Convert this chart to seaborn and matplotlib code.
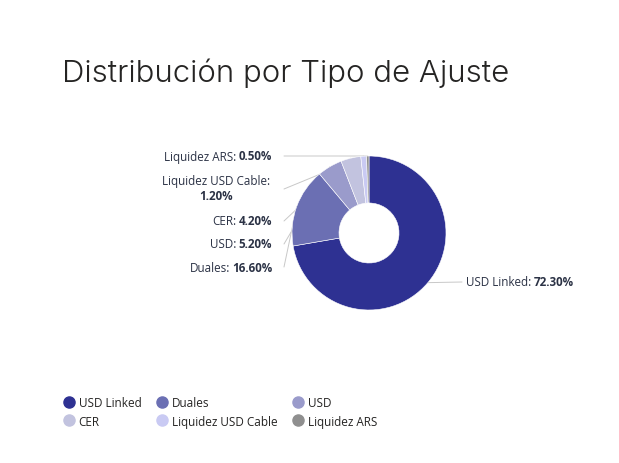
import matplotlib
matplotlib.use("Agg")
import matplotlib.pyplot as plt
import seaborn as sns
import numpy as np
from matplotlib.lines import Line2D

# Data
categories = ["USD Linked", "Duales", "USD", "CER", "Liquidez USD Cable", "Liquidez ARS"]
shares = [72.30, 16.60, 5.20, 4.20, 1.20, 0.50]
colors = ["#2e3192", "#6b6fb3", "#9a9bcb", "#c2c3df", "#c9caf3", "#8f8f8f"]

sns.set_theme(style="white")
plt.rcParams['font.family'] = ['Open Sans', 'DejaVu Sans']

W, H = 619, 464
fig = plt.figure(figsize=(W / 100, H / 100), dpi=100)
ax = fig.add_axes([0, 0, 1, 1])

cx, cy, R, r_in = 369, 234, 77, 30
ax.pie(shares, colors=colors, center=(cx, H - cy), radius=R, startangle=90,
       counterclock=False,
       wedgeprops=dict(width=R - r_in, edgecolor="white", linewidth=0.4))
ax.set_xlim(0, W)
ax.set_ylim(0, H)
ax.set_aspect("equal")
ax.axis("off")

# title
fig.text(62 / W, 1 - 73 / H, "Distribución por Tipo de Ajuste", fontsize=22.4,
         family=['Inter', 'DejaVu Sans'], fontweight=300, color="#252423",
         va="center", ha="left")

txt_col = "#2b3245"
line_col = "#c8c8c8"
fs = 8.4

# slice midpoints on the outer edge
cum = np.cumsum([0] + shares)
mids = []
for i in range(len(shares)):
    frac = (cum[i] + cum[i + 1]) / 2 / 100
    th = 2 * np.pi * frac
    mids.append((cx + R * np.sin(th), cy - R * np.cos(th)))

fig.canvas.draw()
rend = fig.canvas.get_renderer()


def label_left(x_end, y, name, val):
    t = ax.text(x_end, H - y, val, ha="right", va="center", fontsize=fs,
                fontweight="bold", color=txt_col)
    bb = t.get_window_extent(renderer=rend)
    x0 = ax.transData.inverted().transform((bb.x0, bb.y0))[0]
    ax.text(x0 - 2, H - y, name + ":", ha="right", va="center", fontsize=fs,
            color=txt_col)


# left labels: (label y, line start y)
left = {
    "Liquidez ARS": (157, 157),
    "CER": (222, 222),
    "USD": (245, 245),
    "Duales": (269, 268),
}
for name, (ly, sy) in left.items():
    i = categories.index(name)
    label_left(272, ly, name, f"{shares[i]:.2f}%")
    mx, my = mids[i]
    ax.plot([284, mx], [H - sy, H - my], color=line_col, lw=0.7, zorder=0)

# two-line label for Liquidez USD Cable
i = categories.index("Liquidez USD Cable")
ax.text(270, H - 182, "Liquidez USD Cable:", ha="right", va="center",
        fontsize=fs, color=txt_col)
ax.text(216, H - 197, f"{shares[i]:.2f}%", ha="center", va="center",
        fontsize=fs, fontweight="bold", color=txt_col)
mx, my = mids[i]
ax.plot([284, mx], [H - 190, H - my], color=line_col, lw=0.7, zorder=0)

# right label USD Linked
i = categories.index("USD Linked")
mx, my = mids[i]
ax.plot([mx, 462], [H - my, H - 283], color=line_col, lw=0.7, zorder=0)
t = ax.text(466, H - 283, "USD Linked:", ha="left", va="center", fontsize=fs,
            color=txt_col)
bb = t.get_window_extent(renderer=rend)
x1 = ax.transData.inverted().transform((bb.x1, bb.y0))[0]
ax.text(x1 + 2, H - 283, f"{shares[i]:.2f}%", ha="left", va="center", fontsize=fs,
        fontweight="bold", color=txt_col)

# legend (column-major order to get row-major layout)
order = [0, 3, 1, 4, 2, 5]
handles = [Line2D([], [], marker="o", linestyle="", markersize=8,
                  markerfacecolor=colors[k], markeredgecolor=colors[k])
           for k in order]
labels = [categories[k] for k in order]
fig.legend(handles, labels, ncol=3, loc="upper left",
           bbox_to_anchor=(58 / W, 1 - 392 / H), frameon=False,
           fontsize=8.5, handletextpad=0.35, columnspacing=1.25,
           labelspacing=0.5, handlelength=1.0, borderaxespad=0,
           labelcolor="#252423")

fig.savefig("out.png", dpi=100)
